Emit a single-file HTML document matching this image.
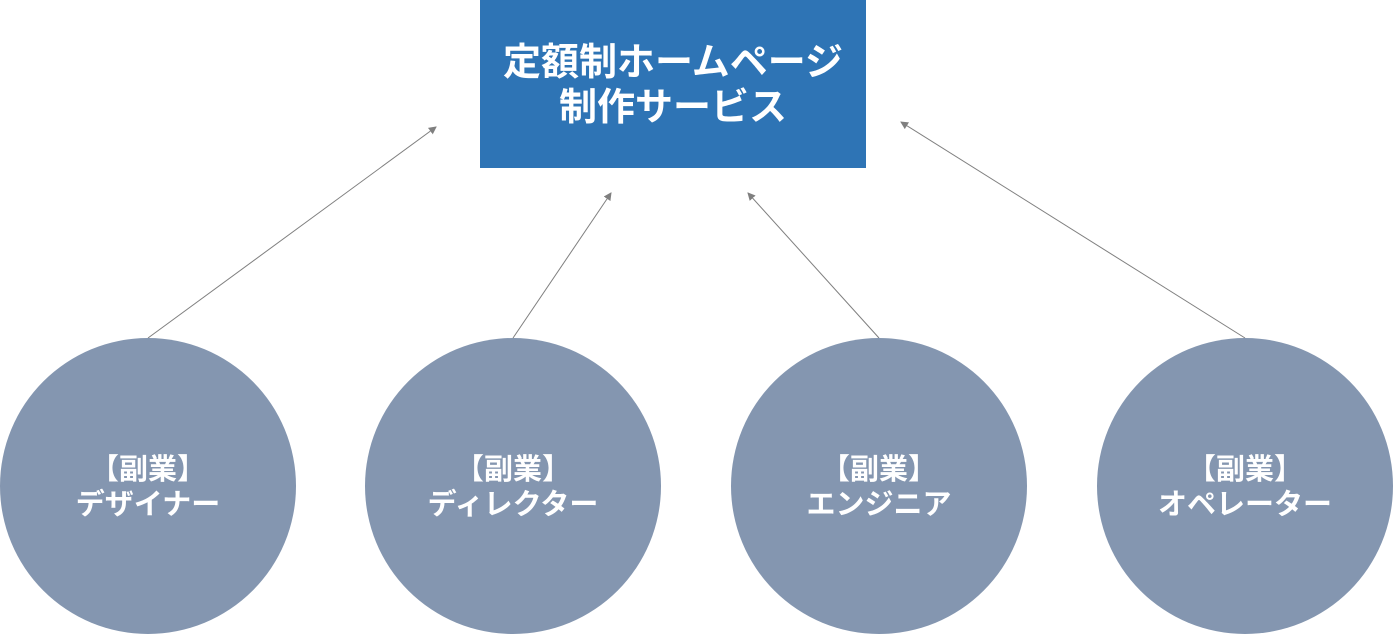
<!DOCTYPE html>
<html><head><meta charset="utf-8"><style>
html,body{margin:0;padding:0;background:#fff;}
body{width:1393px;height:634px;position:relative;overflow:hidden;font-family:"Liberation Sans","Noto Sans CJK JP",sans-serif;}
.box{position:absolute;left:480px;top:0;width:386px;height:168px;background:#2E74B5;color:#fff;font-weight:bold;font-size:38px;line-height:45px;text-align:center;display:flex;align-items:center;justify-content:center;}
.box div{position:relative;top:2px;}
.c{position:absolute;top:338px;width:296px;height:296px;border-radius:50%;background:#8496B0;color:#fff;font-weight:bold;font-size:29px;line-height:35px;text-align:center;display:flex;align-items:center;justify-content:center;}
.c div{position:relative;top:2px;}
</style></head><body>
<svg width="1393" height="634" style="position:absolute;left:0;top:0">
<defs><marker id="a" markerWidth="8" markerHeight="8" refX="7" refY="4" orient="auto" markerUnits="userSpaceOnUse"><path d="M0,0 L8,4 L0,8 z" fill="#7f7f7f"/></marker></defs>
<g stroke="#7f7f7f" stroke-width="1" marker-end="url(#a)">
<line x1="148" y1="338" x2="436" y2="127"/>
<line x1="513" y1="338" x2="611" y2="193"/>
<line x1="879" y1="338" x2="748" y2="193"/>
<line x1="1245" y1="338" x2="901" y2="122"/>
</g></svg>
<div class="box"><div>定額制ホームページ<br>制作サービス</div></div>
<div class="c" style="left:0"><div>【副業】<br>デザイナー</div></div>
<div class="c" style="left:365px"><div>【副業】<br>ディレクター</div></div>
<div class="c" style="left:731px"><div>【副業】<br>エンジニア</div></div>
<div class="c" style="left:1097px"><div>【副業】<br>オペレーター</div></div>
</body></html>
